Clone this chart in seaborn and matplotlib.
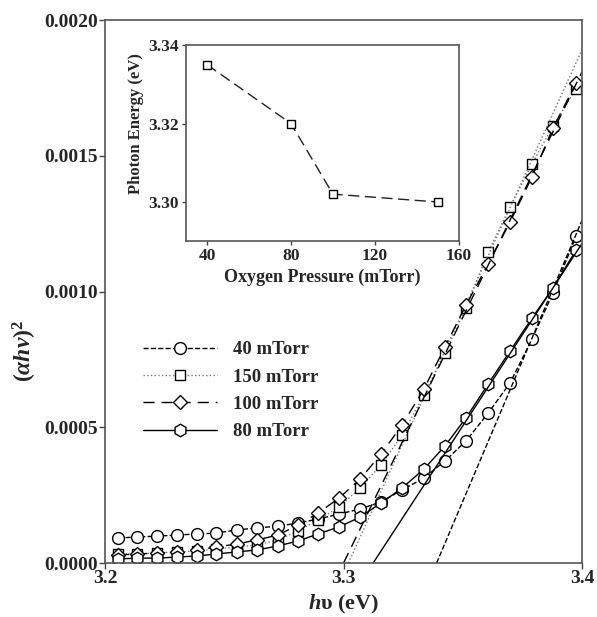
import numpy as np
import pandas as pd
import matplotlib
matplotlib.use('Agg')
import matplotlib.pyplot as plt
import seaborn as sns

# photon energy of the data points (eV)
energy = [3.2055, 3.2134, 3.2218, 3.2302, 3.2386, 3.2465, 3.2553, 3.2637,
          3.2725, 3.2809, 3.2893, 3.2981, 3.3069, 3.3157, 3.3245, 3.3337,
          3.3425, 3.3513, 3.3606, 3.3698, 3.3790, 3.3878, 3.3975]

ahv_40 = [0.000092, 0.000096, 0.000099, 0.000103, 0.000107, 0.000110, 0.000122,
          0.000129, 0.000136, 0.000147, 0.000162, 0.000180, 0.000199, 0.000225,
          0.000269, 0.000313, 0.000376, 0.000449, 0.000552, 0.000663, 0.000825,
          0.000994, 0.001204]
ahv_150 = [0.000033, 0.000033, 0.000037, 0.000041, 0.000044, 0.000052, 0.000059,
           0.000066, 0.000085, 0.000118, 0.000158, 0.000206, 0.000276, 0.000361,
           0.000471, 0.000619, 0.000773, 0.000939, 0.001145, 0.001311, 0.001470,
           0.001610, 0.001746]
ahv_100 = [0.000030, 0.000033, 0.000037, 0.000041, 0.000048, 0.000059, 0.000070,
           0.000085, 0.000103, 0.000140, 0.000184, 0.000239, 0.000309, 0.000401,
           0.000508, 0.000641, 0.000796, 0.000950, 0.001101, 0.001256, 0.001422,
           0.001602, 0.001768]
ahv_80 = [0.000015, 0.000018, 0.000018, 0.000022, 0.000026, 0.000033, 0.000041,
          0.000048, 0.000063, 0.000081, 0.000107, 0.000133, 0.000169, 0.000221,
          0.000276, 0.000346, 0.000431, 0.000534, 0.000659, 0.000781, 0.000902,
          0.001013, 0.001153]

# linear extrapolation: x-intercept (eV) and slope
fit_eg = {'40': 3.339, '150': 3.302, '100': 3.300, '80': 3.3124}
fit_slope = {'40': 0.0207, '150': 0.0193, '100': 0.0181, '80': 0.01344}

# inset
pressure = [40, 80, 100, 150]
gap_energy = [3.335, 3.320, 3.302, 3.300]

sns.set_theme(style='white')
plt.rcParams['font.family'] = ['Liberation Serif', 'DejaVu Serif']
plt.rcParams['font.weight'] = 'bold'
plt.rcParams['mathtext.fontset'] = 'custom'
plt.rcParams['mathtext.rm'] = 'Liberation Serif:bold'
plt.rcParams['mathtext.it'] = 'Liberation Serif:italic:bold'
plt.rcParams['mathtext.bf'] = 'Liberation Serif:bold'

fig = plt.figure(figsize=(5.97, 6.17), dpi=100)
ax = fig.add_axes([0.176, 0.0875, 0.799, 0.880])

series = [
    ('40 mTorr', ahv_40, 'o', '--', 'black', '40', 8.5),
    ('150 mTorr', ahv_150, 's', ':', '#777777', '150', 7.5),
    ('100 mTorr', ahv_100, 'D', (0, (8, 5)), 'black', '100', 7.0),
    ('80 mTorr', ahv_80, 'h', '-', 'black', '80', 9.0),
]

for label, vals, mk, ls, col, key, ms in series:
    df = pd.DataFrame({'E': energy, 'A': vals})
    sns.lineplot(data=df, x='E', y='A', ax=ax, color=col, linestyle=ls, lw=1.0,
                 marker=mk, markersize=ms,
                 markerfacecolor='white', markeredgecolor='black',
                 markeredgewidth=1.0, label=label)
    xf = np.array([fit_eg[key], 3.4])
    ax.plot(xf, fit_slope[key] * (xf - fit_eg[key]), color=col, linestyle=ls, lw=1.0)

ax.set_xlim(3.2, 3.4)
ax.set_ylim(0, 0.002)
ax.set_xticks([3.2, 3.3, 3.4])
ax.set_xticklabels(['3.2', '3.3', '3.4'])
ax.set_yticks([0, 0.0005, 0.0010, 0.0015, 0.0020])
ax.set_yticklabels(['0.0000', '0.0005', '0.0010', '0.0015', '0.0020'])
ax.tick_params(direction='out', length=4, width=1, labelsize=14, color='#444444',
               bottom=True, left=True, pad=1)
for sp in ax.spines.values():
    sp.set_color('#555555')
    sp.set_linewidth(1.2)
ax.set_xlabel(r'$h$υ (eV)', fontsize=16, fontweight='bold', labelpad=4)
ax.set_ylabel(r'$(\alpha h\nu)^2$', fontsize=17)
ax.yaxis.set_label_coords(-0.138, 0.39)

leg = ax.legend(loc='upper left', bbox_to_anchor=(0.045, 0.44), frameon=False,
                handlelength=3.9, handletextpad=0.9, labelspacing=0.55,
                prop={'family': 'Liberation Serif', 'weight': 'bold', 'size': 13.5})

# inset
axi = fig.add_axes([0.3116, 0.609, 0.457, 0.318])
ins = pd.DataFrame({'P': pressure, 'E': gap_energy})
sns.lineplot(data=ins, x='P', y='E', ax=axi, color='#222222', linestyle=(0, (8, 4)),
             lw=1.0, marker='s', markersize=5.5, markerfacecolor='white',
             markeredgecolor='black', markeredgewidth=1.0)
axi.set_xlim(30, 160)
axi.set_ylim(3.29, 3.34)
axi.set_xticks([40, 80, 120, 160])
axi.set_yticks([3.30, 3.32, 3.34])
axi.set_yticklabels(['3.30', '3.32', '3.34'])
axi.tick_params(direction='out', length=3, width=1, labelsize=12.5, color='#444444',
                bottom=True, left=True, pad=2)
for sp in axi.spines.values():
    sp.set_color('#555555')
    sp.set_linewidth(1.2)
axi.set_xlabel('Oxygen Pressure (mTorr)', fontsize=13, fontweight='bold', labelpad=3)
axi.set_ylabel('Photon Energy (eV)', fontsize=12, fontweight='bold')
axi.yaxis.set_label_coords(-0.155, 0.6)

fig.savefig('out.png', dpi=100)
